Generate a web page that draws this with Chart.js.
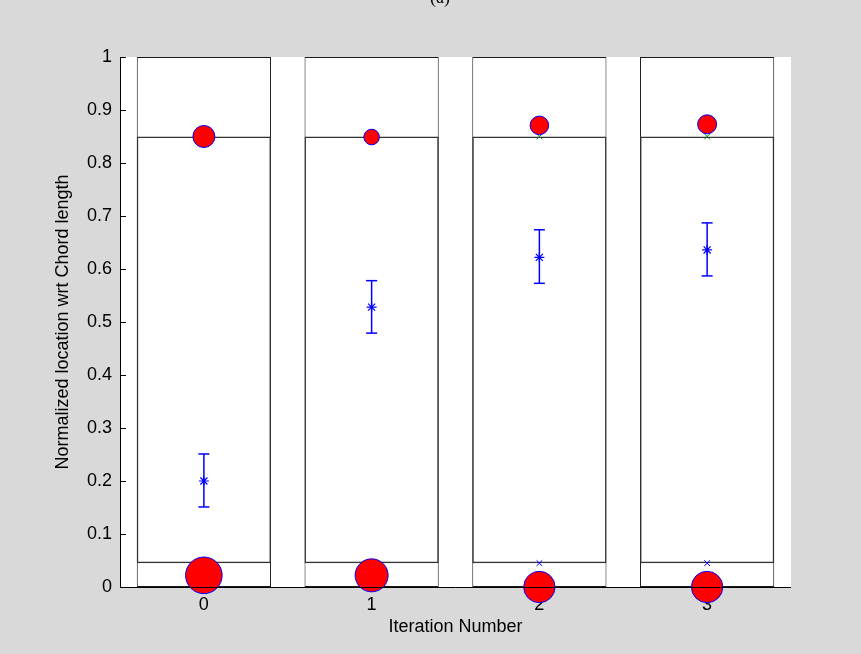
<!DOCTYPE html>
<html><head><meta charset="utf-8">
<script src="https://cdn.jsdelivr.net/npm/chart.js@4/dist/chart.umd.min.js"></script>
<style>html,body{margin:0;padding:0;background:#d9d9d9;overflow:hidden}canvas{display:block}</style>
</head><body>
<canvas id="c" width="861" height="654"></canvas>
<script>
// ---- data ----
const categories = ['0', '1', '2', '3'];
const boxLow = [0, 0, 0, 0];
const boxHigh = [1, 1, 1, 1];
const lowerLimit = [0.045, 0.045, 0.045, 0.045];
const upperLimit = [0.85, 0.85, 0.85, 0.85];
const meanValue = [0.200, 0.528, 0.622, 0.636];
const errLow = [0.151, 0.479, 0.573, 0.587];
const errHigh = [0.251, 0.578, 0.674, 0.687];
const topCircle = [0.850, 0.849, 0.871, 0.873];
const bottomCircle = [0.022, 0.022, 0.000, 0.000];
const yTickValues = [0, 0.1, 0.2, 0.3, 0.4, 0.5, 0.6, 0.7, 0.8, 0.9, 1];
const yTickLabels = ['0', '0.1', '0.2', '0.3', '0.4', '0.5', '0.6', '0.7', '0.8', '0.9', '1'];
const titleText = '(a)';
const xTitle = 'Iteration Number';
const yTitle = 'Normalized location wrt Chord length';

// ---- styles ----
const topRadius = [11, 7.8, 9.3, 9.5];
const bottomRadius = [18.3, 16.5, 15.7, 15.7];
const FONT = '"Liberation Sans", Arial, Helvetica, sans-serif';

const datasets = [];
datasets.push({
  type: 'bar', order: 20,
  data: categories.map((_, i) => [boxLow[i], boxHigh[i]]),
  backgroundColor: '#ffffff', borderColor: '#1a1a1a', borderWidth: 1, borderSkipped: false,
  categoryPercentage: 0.8, barPercentage: 1, grouped: false
});
datasets.push({
  type: 'bar', order: 19,
  data: categories.map((_, i) => [lowerLimit[i], upperLimit[i]]),
  backgroundColor: 'rgba(0,0,0,0)', borderColor: '#333333', borderWidth: 1.4, borderSkipped: false,
  categoryPercentage: 0.8, barPercentage: 1, grouped: false
});
datasets.push({
  type: 'scatter', order: 8,
  data: categories.map((x, i) => ({x, y: upperLimit[i]})),
  pointStyle: 'crossRot', pointRadius: 4, borderColor: '#008000', pointBorderWidth: 1, backgroundColor: '#008000'
});
datasets.push({
  type: 'scatter', order: 8,
  data: categories.map((x, i) => ({x, y: lowerLimit[i]})),
  pointStyle: 'crossRot', pointRadius: 4, borderColor: '#0000ff', pointBorderWidth: 1, backgroundColor: '#0000ff'
});
categories.forEach((x, i) => {
  datasets.push({
    type: 'line', order: 6,
    data: [{x, y: errLow[i]}, {x, y: errHigh[i]}],
    borderColor: '#0000ff', borderWidth: 1.5, pointStyle: 'line', pointRadius: 5.5,
    pointBorderColor: '#0000ff', pointBorderWidth: 1.5, fill: false
  });
});
datasets.push({
  type: 'scatter', order: 5,
  data: categories.map((x, i) => ({x, y: meanValue[i]})),
  pointStyle: 'star', pointRadius: 5, borderColor: '#0000ff', pointBorderWidth: 1.2, backgroundColor: '#0000ff'
});
datasets.push({
  type: 'scatter', order: 2, clip: false,
  data: categories.map((x, i) => ({x, y: topCircle[i]})),
  pointStyle: 'circle', pointRadius: topRadius, backgroundColor: '#ff0000', borderColor: '#0000ff', pointBorderWidth: 1
});
datasets.push({
  type: 'scatter', order: 1, clip: false,
  data: categories.map((x, i) => ({x, y: bottomCircle[i]})),
  pointStyle: 'circle', pointRadius: bottomRadius, backgroundColor: '#ff0000', borderColor: '#0000ff', pointBorderWidth: 1
});

const decor = {
  id: 'decor',
  beforeDraw(chart) {
    const {ctx, chartArea: a} = chart;
    ctx.save();
    ctx.fillStyle = '#ffffff';
    ctx.fillRect(a.left, a.top, a.right - a.left, a.bottom - a.top);
    ctx.restore();
  },
  beforeDatasetsDraw(chart) {
    const {ctx, chartArea: a, scales} = chart;
    ctx.save();
    ctx.strokeStyle = '#000'; ctx.lineWidth = 1;
    ctx.beginPath();
    categories.forEach((c, i) => {
      const x = Math.round(scales.x.getPixelForValue(i)) + 0.5;
      ctx.moveTo(x, a.bottom); ctx.lineTo(x, a.bottom - 6);
    });
    ctx.stroke();
    ctx.restore();
  },
  afterDraw(chart) {
    const {ctx, chartArea: a, scales} = chart;
    ctx.save();
    // axes
    ctx.strokeStyle = '#000'; ctx.lineWidth = 1;
    ctx.beginPath();
    ctx.moveTo(a.left + 0.5, a.top); ctx.lineTo(a.left + 0.5, a.bottom + 0.5);
    ctx.lineTo(a.right, a.bottom + 0.5);
    ctx.stroke();
    // inward ticks
    ctx.beginPath();
    yTickValues.forEach(v => {
      const y = Math.round(scales.y.getPixelForValue(v)) + 0.5;
      ctx.moveTo(a.left, y); ctx.lineTo(a.left + 6, y);
    });
    ctx.stroke();
    // titles
    ctx.fillStyle = '#000';
    ctx.font = '18px ' + FONT;
    ctx.textAlign = 'center'; ctx.textBaseline = 'middle';
    ctx.fillText(xTitle, (a.left + a.right) / 2, 627);
    ctx.save();
    ctx.translate(63, (a.top + a.bottom) / 2);
    ctx.rotate(-Math.PI / 2);
    ctx.fillText(yTitle, 0, 0);
    ctx.restore();
    ctx.font = '18px "Liberation Serif", "Times New Roman", serif';
    ctx.textBaseline = 'alphabetic';
    ctx.fillText(titleText, 440, 3);
    ctx.restore();
  }
};

new Chart(document.getElementById('c'), {
  type: 'bar',
  data: {labels: categories, datasets},
  options: {
    responsive: false, animation: false, devicePixelRatio: 1,
    layout: {padding: {top: 57, right: 70, left: 0, bottom: 0}},
    plugins: {legend: {display: false}, tooltip: {enabled: false}},
    scales: {
      x: {
        type: 'category', offset: true,
        grid: {display: false, drawTicks: false}, border: {display: false},
        ticks: {color: '#000', font: {size: 18, family: FONT}, padding: 7, maxRotation: 0},
        afterFit(s) { s.height = 67; }
      },
      y: {
        min: 0, max: 1,
        grid: {display: false, drawTicks: false}, border: {display: false},
        afterBuildTicks(s) { s.ticks = yTickValues.map(v => ({value: v})); },
        ticks: {color: '#000', font: {size: 18, family: FONT}, padding: 8,
          callback: (v, i) => yTickLabels[i]},
        afterFit(s) { s.width = 120; }
      }
    }
  },
  plugins: [decor]
});
</script>
</body></html>
